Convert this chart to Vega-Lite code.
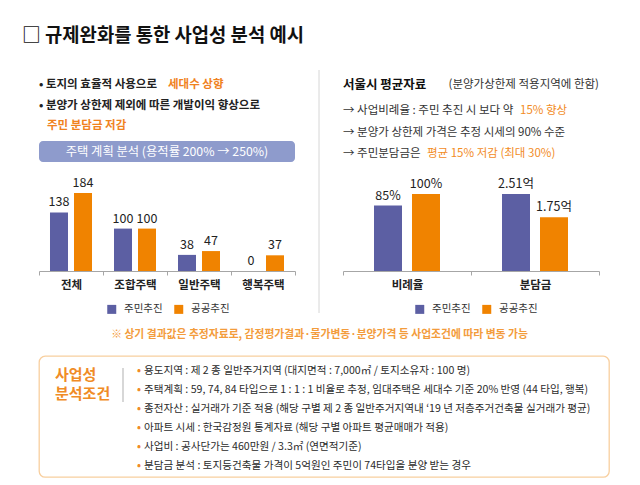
{
  "$schema": "https://vega.github.io/schema/vega-lite/v6.json",
  "background": "white",
  "padding": {"left": 22, "top": 26, "right": 4, "bottom": 4},
  "config": {
    "font": "Noto Sans CJK KR",
    "view": {"stroke": null},
    "title": {"font": "Noto Sans CJK KR"},
    "axis": {"labelFont": "Noto Sans CJK KR"},
    "legend": {"labelFont": "Noto Sans CJK KR"},
    "text": {"font": "Noto Sans CJK KR"}
  },
  "title": {"text": "□ 규제완화를 통한 사업성 분석 예시", "anchor": "start", "frame": "group", "dx": -17, "offset": 24, "fontSize": 18.8, "fontWeight": "bold", "color": "#111111"},
  "spacing": 10,
  "vconcat": [
    {
      "hconcat": [
        {
          "vconcat": [
            {
              "width": 256, "height": 71,
              "data": {"values": [
                {"line": 1, "seg": "lead", "tone": "plain", "text": "• 토지의 효율적 사용으로"},
                {"line": 1, "seg": "tail", "tone": "accent", "text": "세대수 상향"},
                {"line": 2, "seg": "lead", "tone": "plain", "text": "• 분양가 상한제 제외에 따른 개발이익 향상으로"},
                {"line": 3, "seg": "tail", "tone": "accent", "text": "주민 분담금 저감"}
              ]},
              "encoding": {
                "y": {"field": "line", "type": "ordinal", "axis": null, "scale": {"type": "point", "padding": 0, "range": [15, 56]}},
                "text": {"field": "text"}
              },
              "layer": [
                {"transform": [{"filter": "datum.tone === 'plain'"}], "mark": {"type": "text", "align": "left", "baseline": "middle", "fontSize": 11.5, "fontWeight": "bold", "color": "#222222"},
                  "encoding": {"x": {"field": "seg", "type": "nominal", "axis": null, "scale": {"type": "point", "padding": 0, "align": 0}}}},
                {"transform": [{"filter": "datum.tone === 'accent'"}], "mark": {"type": "text", "align": "left", "baseline": "middle", "fontSize": 11.5, "fontWeight": "bold", "color": "#f0821e"},
                  "encoding": {"x": {"field": "line", "type": "ordinal", "axis": null, "scale": {"type": "point", "padding": 0, "domain": [1, 3], "range": [129, 8]}}}}
              ],
              "resolve": {"scale": {"x": "independent"}}
            },
            {
              "width": 256, "height": 21,
              "view": {"fill": "#8e9bcc", "cornerRadius": 4},
              "data": {"values": [{"block": "banner", "text": "주택 계획 분석 (용적률 200% → 250%)"}]},
              "mark": {"type": "text", "align": "center", "baseline": "middle", "fontSize": 12.3, "color": "white"},
              "encoding": {
                "x": {"field": "block", "type": "nominal", "axis": null},
                "y": {"field": "block", "type": "nominal", "axis": null},
                "text": {"field": "text"}
              }
            },
            {
              "width": 256, "height": 109,
              "data": {"values": [
                {"type": "전체", "series": "주민추진", "value": 138},
                {"type": "전체", "series": "공공추진", "value": 184},
                {"type": "조합주택", "series": "주민추진", "value": 100},
                {"type": "조합주택", "series": "공공추진", "value": 100},
                {"type": "일반주택", "series": "주민추진", "value": 38},
                {"type": "일반주택", "series": "공공추진", "value": 47},
                {"type": "행복주택", "series": "주민추진", "value": 0},
                {"type": "행복주택", "series": "공공추진", "value": 37}
              ]},
              "encoding": {
                "x": {"field": "type", "type": "nominal", "sort": null, "scale": {"paddingInner": 0, "paddingOuter": 0},
                  "axis": {"title": null, "labelAngle": 0, "domainColor": "#a6a6a6", "tickColor": "#a6a6a6", "tickBand": "extent", "tickSize": 4, "labelFontSize": 11.5, "labelFontWeight": "bold", "labelColor": "#222222", "labelPadding": 4}},
                "xOffset": {"field": "series", "sort": ["주민추진", "공공추진"], "scale": {"paddingInner": 0.25, "paddingOuter": 0.458}},
                "y": {"field": "value", "type": "quantitative", "scale": {"domain": [0, 257]}, "axis": null},
                "color": {"field": "series", "type": "nominal", "scale": {"domain": ["주민추진", "공공추진"], "range": ["#5c5fa3", "#f08300"]},
                  "legend": {"title": null, "orient": "none", "legendX": 67.5, "legendY": 142, "direction": "horizontal", "symbolType": "square", "symbolSize": 81, "symbolStrokeWidth": 0, "labelFontSize": 10.5, "labelColor": "#333333", "columnPadding": 10, "labelOffset": 7, "padding": 0}}
              },
              "layer": [
                {"mark": {"type": "bar"}},
                {"mark": {"type": "text", "baseline": "bottom", "dy": -3, "fontSize": 12.5},
                  "encoding": {"text": {"field": "value"}, "color": {"value": "#222222"}}}
              ]
            }
          ],
          "spacing": 0,
          "bounds": "flush",
          "resolve": {"scale": {"color": "independent", "xOffset": "independent"}, "legend": {"color": "independent"}}
        },
        {
          "width": 1, "height": 243,
          "data": {"values": [{"k": "divider"}]},
          "mark": {"type": "rule", "color": "#d6d6d6", "strokeWidth": 1},
          "encoding": {"x": {"field": "k", "type": "nominal", "axis": null}}
        },
        {
          "vconcat": [
            {
              "width": 256, "height": 30,
              "data": {"values": [
                {"part": "title", "text": "서울시 평균자료"},
                {"part": "note", "text": "(분양가상한제 적용지역에 한함)"}
              ]},
              "encoding": {
                "x": {"field": "part", "type": "nominal", "axis": null, "scale": {"type": "point", "padding": 0, "domain": ["title", "note"]}},
                "y": {"datum": "head", "type": "nominal", "axis": null},
                "text": {"field": "text"}
              },
              "layer": [
                {"transform": [{"filter": "datum.part === 'title'"}], "mark": {"type": "text", "align": "left", "baseline": "middle", "fontSize": 12.5, "fontWeight": "bold", "color": "#111111"}},
                {"transform": [{"filter": "datum.part === 'note'"}], "mark": {"type": "text", "align": "right", "baseline": "middle", "fontSize": 11.5, "color": "#333333"}}
              ]
            },
            {
              "width": 256, "height": 64,
              "data": {"values": [
                {"line": 1, "seg": "lead", "text": "→ 사업비례율 : 주민 추진 시 보다 약"},
                {"line": 1, "seg": "tail", "text": "15% 향상"},
                {"line": 2, "seg": "lead", "text": "→ 분양가 상한제 가격은 추정 시세의 90% 수준"},
                {"line": 3, "seg": "lead", "text": "→ 주민분담금은"},
                {"line": 3, "seg": "tail", "text": "평균 15% 저감 (최대 30%)"}
              ]},
              "encoding": {
                "y": {"field": "line", "type": "ordinal", "axis": null, "scale": {"type": "point", "padding": 0, "range": [11, 54]}},
                "text": {"field": "text"}
              },
              "layer": [
                {"transform": [{"filter": "datum.seg === 'lead'"}], "mark": {"type": "text", "align": "left", "baseline": "middle", "fontSize": 11.5, "color": "#333333"},
                  "encoding": {"x": {"field": "seg", "type": "nominal", "axis": null, "scale": {"type": "point", "padding": 0, "align": 0}}}},
                {"transform": [{"filter": "datum.seg === 'tail'"}], "mark": {"type": "text", "align": "left", "baseline": "middle", "fontSize": 11.5, "color": "#f28c1f"},
                  "encoding": {"x": {"field": "line", "type": "ordinal", "axis": null, "scale": {"type": "point", "padding": 0, "domain": [1, 3], "range": [177, 84]}}}}
              ],
              "resolve": {"scale": {"x": "independent"}}
            },
            {
              "width": 256, "height": 107,
              "data": {"values": [
                {"metric": "비례율", "series": "주민추진", "value": 85, "label": "85%"},
                {"metric": "비례율", "series": "공공추진", "value": 100, "label": "100%"},
                {"metric": "분담금", "series": "주민추진", "value": 2.51, "label": "2.51억"},
                {"metric": "분담금", "series": "공공추진", "value": 1.75, "label": "1.75억"}
              ]},
              "encoding": {
                "x": {"field": "metric", "type": "nominal", "sort": null, "scale": {"paddingInner": 0, "paddingOuter": 0},
                  "axis": {"title": null, "labelAngle": 0, "domainColor": "#a6a6a6", "tickColor": "#a6a6a6", "tickBand": "extent", "tickSize": 4, "labelFontSize": 11.5, "labelFontWeight": "bold", "labelColor": "#222222", "labelPadding": 4}},
                "xOffset": {"field": "series", "sort": ["주민추진", "공공추진"], "scale": {"paddingInner": 0.263, "paddingOuter": 0.816}},
                "color": {"field": "series", "type": "nominal", "scale": {"domain": ["주민추진", "공공추진"], "range": ["#5c5fa3", "#f08300"]},
                  "legend": {"title": null, "orient": "none", "legendX": 71.5, "legendY": 140, "direction": "horizontal", "symbolType": "square", "symbolSize": 81, "symbolStrokeWidth": 0, "labelFontSize": 10.5, "labelColor": "#333333", "columnPadding": 10, "labelOffset": 7, "padding": 0}}
              },
              "layer": [
                {"transform": [{"filter": "datum.metric === '비례율'"}], "mark": {"type": "bar"},
                  "encoding": {"y": {"field": "value", "type": "quantitative", "scale": {"domain": [0, 139]}, "axis": null}}},
                {"transform": [{"filter": "datum.metric === '비례율'"}], "mark": {"type": "text", "baseline": "bottom", "dy": -3, "fontSize": 12.5},
                  "encoding": {"y": {"field": "value", "type": "quantitative", "scale": {"domain": [0, 139]}, "axis": null}, "text": {"field": "label"}, "color": {"value": "#222222"}}},
                {"transform": [{"filter": "datum.metric === '분담금'"}], "mark": {"type": "bar"},
                  "encoding": {"y": {"field": "value", "type": "quantitative", "scale": {"domain": [0, 3.488]}, "axis": null}}},
                {"transform": [{"filter": "datum.metric === '분담금'"}], "mark": {"type": "text", "baseline": "bottom", "dy": -3, "fontSize": 12.5},
                  "encoding": {"y": {"field": "value", "type": "quantitative", "scale": {"domain": [0, 3.488]}, "axis": null}, "text": {"field": "label"}, "color": {"value": "#222222"}}}
              ],
              "resolve": {"scale": {"y": "independent"}}
            }
          ],
          "spacing": 0,
          "bounds": "flush",
          "resolve": {"scale": {"color": "independent", "xOffset": "independent"}, "legend": {"color": "independent"}}
        }
      ],
      "spacing": 22.5,
      "resolve": {"scale": {"color": "independent", "xOffset": "independent"}, "legend": {"color": "independent"}}
    },
    {
      "width": 561, "height": 20,
      "data": {"values": [{"k": "note", "text": "※ 상기 결과값은 추정자료로, 감정평가결과·물가변동·분양가격 등 사업조건에 따라 변동 가능"}]},
      "mark": {"type": "text", "align": "center", "baseline": "middle", "fontSize": 10.8, "fontWeight": "bold", "color": "#f39c3c"},
      "encoding": {
        "x": {"field": "k", "type": "nominal", "axis": null},
        "y": {"field": "k", "type": "nominal", "axis": null},
        "text": {"field": "text"}
      }
    },
    {
      "width": 570, "height": 121,
      "view": {"stroke": "#f8cf9f", "strokeWidth": 1.3, "cornerRadius": 6, "fill": "white"},
      "layer": [
        {
          "data": {"values": [{"part": "label", "head": "사업성"}]},
          "mark": {"type": "text", "align": "left", "baseline": "top", "fontSize": 15, "fontWeight": "bold", "color": "#f08c26"},
          "encoding": {
            "x": {"field": "part", "type": "nominal", "axis": null, "scale": {"type": "point", "range": [16, 16]}},
            "y": {"field": "head", "type": "nominal", "axis": null, "scale": {"type": "point", "padding": 0, "domain": ["사업성", "분석조건"], "range": [12, 46]}},
            "text": {"field": "head"}
          }
        },
        {
          "data": {"values": [{"part": "label", "head": "분석조건"}]},
          "mark": {"type": "text", "align": "left", "baseline": "bottom", "fontSize": 15, "fontWeight": "bold", "color": "#f08c26"},
          "encoding": {
            "x": {"field": "part", "type": "nominal", "axis": null, "scale": {"type": "point", "range": [16, 16]}},
            "y": {"field": "head", "type": "nominal", "axis": null, "scale": {"type": "point", "padding": 0, "domain": ["사업성", "분석조건"], "range": [12, 46]}},
            "text": {"field": "head"}
          }
        },
        {
          "data": {"values": [{"part": "divider"}]},
          "mark": {"type": "rule", "color": "#bdbdbd", "strokeWidth": 1.2},
          "encoding": {
            "x": {"field": "part", "type": "nominal", "axis": null, "scale": {"type": "point", "range": [84, 84]}},
            "y": {"datum": "사업성", "type": "nominal", "axis": null, "scale": {"type": "point", "padding": 0, "domain": ["사업성", "분석조건"], "range": [12, 46]}},
            "y2": {"datum": "분석조건"}
          }
        },
        {
          "data": {"name": "conditions"},
          "mark": {"type": "text", "align": "left", "baseline": "middle", "fontSize": 10.6, "fontWeight": "bold", "color": "#f08c26"},
          "encoding": {
            "x": {"field": "part", "type": "nominal", "axis": null, "scale": {"type": "point", "range": [98, 98]}},
            "y": {"field": "line", "type": "ordinal", "axis": null, "scale": {"type": "point", "padding": 0, "range": [15, 110]}},
            "text": {"value": "•"}
          }
        },
        {
          "data": {"name": "conditions"},
          "mark": {"type": "text", "align": "left", "baseline": "middle", "fontSize": 10.6, "color": "#2b2b2b"},
          "encoding": {
            "x": {"field": "part", "type": "nominal", "axis": null, "scale": {"type": "point", "range": [105, 105]}},
            "y": {"field": "line", "type": "ordinal", "axis": null, "scale": {"type": "point", "padding": 0, "range": [15, 110]}},
            "text": {"field": "text"}
          }
        }
      ],
      "resolve": {"scale": {"x": "independent", "y": "independent"}}
    }
  ],
  "datasets": {
    "conditions": [
      {"part": "body", "line": 1, "text": "용도지역 : 제 2 종 일반주거지역 (대지면적 : 7,000㎡ / 토지소유자 : 100 명)"},
      {"part": "body", "line": 2, "text": "주택계획 : 59, 74, 84 타입으로 1 : 1 : 1 비율로 추정, 임대주택은 세대수 기준 20% 반영 (44 타입, 행복)"},
      {"part": "body", "line": 3, "text": "종전자산 : 실거래가 기준 적용 (해당 구별 제 2 종 일반주거지역내 ‘19 년 저층주거건축물 실거래가 평균)"},
      {"part": "body", "line": 4, "text": "아파트 시세 : 한국감정원 통계자료 (해당 구별 아파트 평균매매가 적용)"},
      {"part": "body", "line": 5, "text": "사업비 : 공사단가는 460만원 / 3.3㎡ (연면적기준)"},
      {"part": "body", "line": 6, "text": "분담금 분석 : 토지등건축물 가격이 5억원인 주민이 74타입을 분양 받는 경우"}
    ]
  }
}
